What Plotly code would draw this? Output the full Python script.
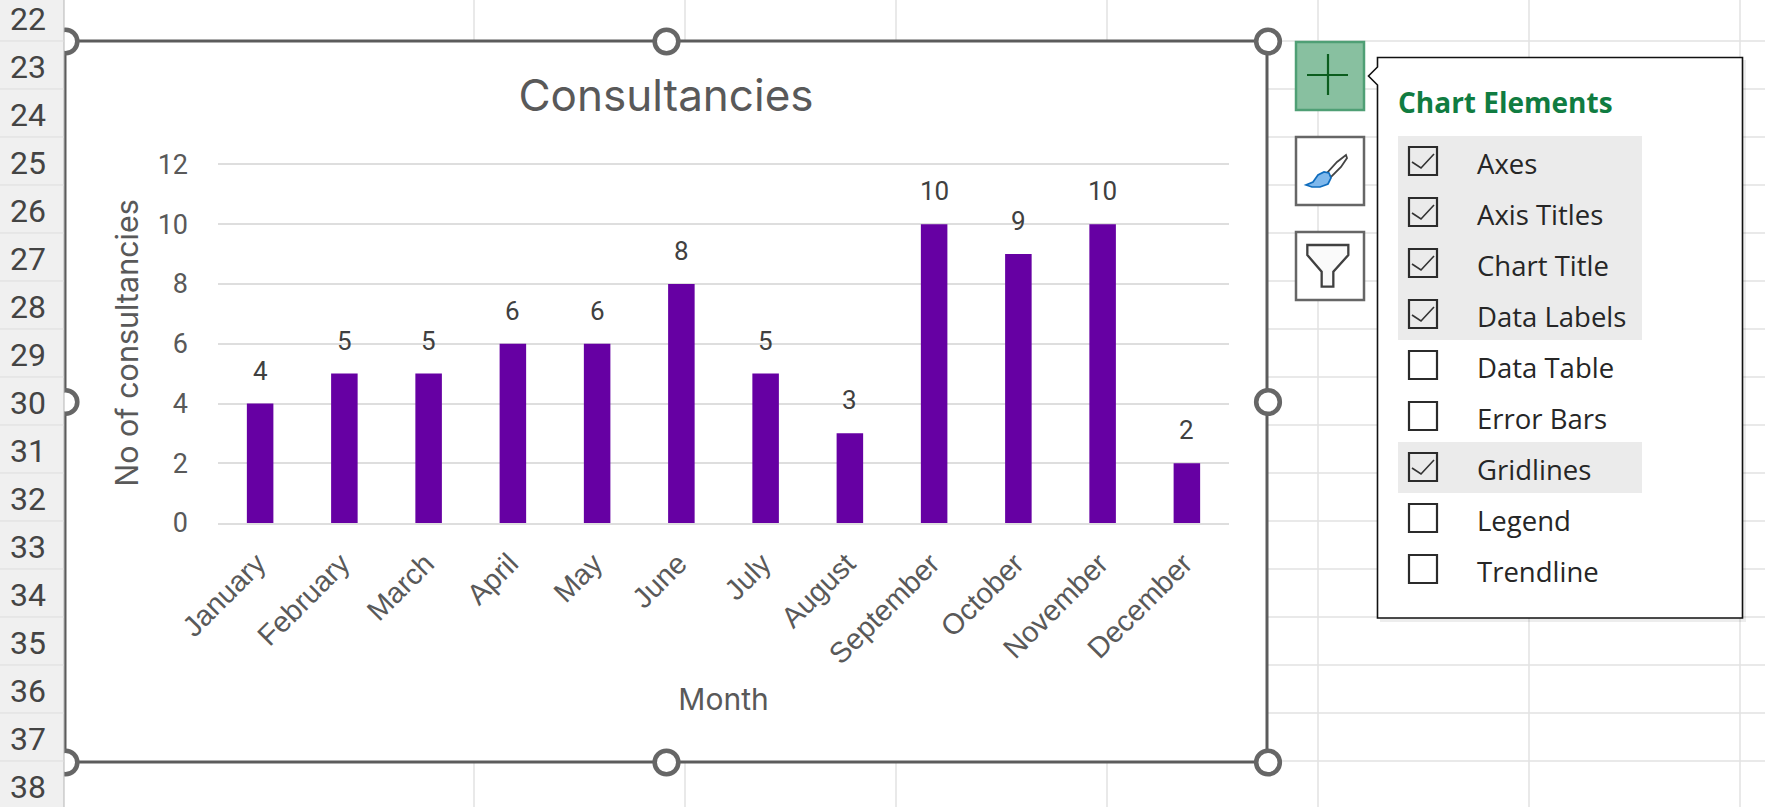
import plotly.graph_objects as go

months = ["January","February","March","April","May","June","July","August","September","October","November","December"]
consultancies = [4,5,5,6,6,8,5,3,10,9,10,2]
y_ticks = [0,2,4,6,8,10,12]
row_numbers = list(range(22,39))
menu_items = ["Axes","Axis Titles","Chart Title","Data Labels","Data Table","Error Bars","Gridlines","Legend","Trendline"]
menu_checked = [True,True,True,True,False,False,True,False,False]

W, H = 1765, 807
L, R, T, B = 218, 1229, 163, 523
TEXT = "#595959"

def px(x): return (x - L) / (R - L)
def py(y): return (B - y) / (B - T)

shapes, notes = [], []

def rect(x0, y0, x1, y1, fill="rgba(0,0,0,0)", line="rgba(0,0,0,0)", lw=0):
    shapes.append(dict(type="rect", xref="paper", yref="paper", layer="below",
                       x0=px(x0), x1=px(x1), y0=py(y0), y1=py(y1), fillcolor=fill,
                       line=dict(color=line, width=lw)))

def seg(x0, y0, x1, y1, color, lw):
    shapes.append(dict(type="line", xref="paper", yref="paper", layer="below",
                       x0=px(x0), x1=px(x1), y0=py(y0), y1=py(y1), line=dict(color=color, width=lw)))

def poly(points, fill="rgba(0,0,0,0)", line="#333333", lw=2, close=True):
    d = "M " + " L ".join(f"{px(a):.5f},{py(b):.5f}" for a, b in points) + (" Z" if close else "")
    shapes.append(dict(type="path", xref="paper", yref="paper", layer="below", path=d,
                       fillcolor=fill, line=dict(color=line, width=lw)))

def circle(cx, cy, r, fill, line, lw):
    shapes.append(dict(type="circle", xref="paper", yref="paper", layer="below",
                       x0=px(cx-r), x1=px(cx+r), y0=py(cy+r), y1=py(cy-r),
                       fillcolor=fill, line=dict(color=line, width=lw)))

def text(x, y, s, size, color, font="Roboto", anchor="left", bold=False):
    notes.append(dict(xref="paper", yref="paper", x=px(x), y=py(y), text=f"<b>{s}</b>" if bold else s,
                      showarrow=False, xanchor=anchor, yanchor="middle",
                      font=dict(family=font, size=size, color=color)))

# sheet grid
for i in range(18):
    seg(64, 41 + 48*i - 48, W, 41 + 48*i - 48, "#E2E2E2", 1.5)
for x in [474, 685, 896, 1107, 1318, 1529, 1740]:
    seg(x, 0, x, H, "#E2E2E2", 1.5)

# chart area
rect(65, 41, 1267, 762, fill="white", line="#5C5C5C", lw=3)
for cx, cy in [(65.5,41.5),(65.5,402),(65.5,762.5),(666.5,41.5),(666.5,762.5),(1268,41.5),(1268,402),(1268,762.5)]:
    circle(cx, cy, 11.8, "white", "#666666", 4.6)

# row header
rect(0, 0, 64, H, fill="#F0F0F0")
seg(64, 0, 64, H, "#B5B5B5", 1)
for i, n in enumerate(row_numbers):
    yc = 41 + 48*(i-1) + 24
    seg(0, yc + 24, 64, yc + 24, "#DDDDDD", 1)
    text(28, yc + 2, str(n), 32, "#444444", anchor="center")

# chart buttons
rect(1296, 42, 1364, 110, fill="#88C0A0", line="#4F9F75", lw=2.5)
seg(1307, 75, 1348, 75, "#0B5D1E", 2.2)
seg(1328, 54, 1328, 95, "#0B5D1E", 2.2)
rect(1296, 137, 1364, 205, fill="white", line="#666666", lw=2.5)
rect(1296, 232, 1364, 300, fill="white", line="#666666", lw=2.5)
# brush
poly([(1346,155),(1347,158),(1341,167),(1331,177),(1327,173),(1337,162)], fill="white", line="#444444", lw=1.8)
poly([(1329,173),(1331,178),(1328,184),(1320,187),(1312,187),(1306,185),(1313,182),(1318,175),(1324,172)], fill="#7FB8EC", line="#0F6CBD", lw=1.7)
# funnel
fz = [(172,735),(295,735),(295,765),(250,815),(250,860),(215,860),(215,815),(172,765)]
poly([(1250 + a/3, b/3) for a, b in fz], fill="#FAFAFA", line="#404040", lw=2.3)

# popup
rect(1380, 60, 1746, 622, fill="rgba(0,0,0,0.07)")
poly([(1377.5,57.5),(1742.5,57.5),(1742.5,618),(1377.5,618),(1377.5,85),(1368.5,76),(1377.5,67)], fill="white", line="#111111", lw=1.6)
text(1396, 102, "Chart Elements", 28, "#107C41", font="Open Sans", bold=True)
rect(1398, 136, 1642, 340, fill="#EBEBEB")
rect(1398, 442, 1642, 493, fill="#EBEBEB")
for i, (item, on) in enumerate(zip(menu_items, menu_checked)):
    y0 = 146 + 51*i
    rect(1409, y0 + 1, 1437, y0 + 29, line="#2B2B2B", lw=2.2)
    if on:
        poly([(1412, y0+16),(1421, y0+22),(1434, y0+8)], line="#333333", lw=1.6, close=False)
    text(1474.5, y0 + 17, item, 27.5, "#262626", font="Open Sans")

# data labels, placed from the data through the axes
for m, v in zip(months, consultancies):
    notes.append(dict(x=m, y=v, xref="x", yref="y", text=str(v), showarrow=False, yshift=33,
                      xanchor="center", yanchor="middle", font=dict(family="Roboto", size=26, color="#404040")))

fig = go.Figure(go.Bar(x=months, y=consultancies, marker=dict(color="#6600A3", line=dict(width=0)), width=0.315))
fig.update_layout(
    width=W, height=H, showlegend=False, bargap=0.685,
    paper_bgcolor="white", plot_bgcolor="rgba(0,0,0,0)",
    margin=dict(l=L, r=W-R, t=T, b=H-B, pad=0),
    title=dict(text="Consultancies", x=666/W, xanchor="center", y=1-96/H, yanchor="middle", yref="container",
               font=dict(family="Inter", size=44, color=TEXT)),
    xaxis=dict(type="category", categoryorder="array", categoryarray=months, tickangle=-45, showgrid=False,
               showline=True, linecolor="#DEDEDE", linewidth=2, ticks="", ticklabelstandoff=10, ticklabelshift=-3,
               tickfont=dict(family="Liberation Sans", size=29, color=TEXT),
               title=dict(text="Month", standoff=20, font=dict(family="Inter", size=30, color=TEXT))),
    yaxis=dict(range=[0,12.05], tickmode="array", tickvals=y_ticks, showgrid=True, gridcolor="#DEDEDE", gridwidth=2,
               zeroline=False, showline=False, ticks="", ticklabelstandoff=29,
               tickfont=dict(family="Roboto", size=27, color=TEXT),
               title=dict(text="No of consultancies", standoff=9, font=dict(family="Inter", size=30.5, color=TEXT))),
    shapes=shapes, annotations=notes,
)
fig.write_html("out.html", config=dict(displayModeBar=False),
               post_script="document.body.style.margin='0';document.body.style.overflow='hidden';")
